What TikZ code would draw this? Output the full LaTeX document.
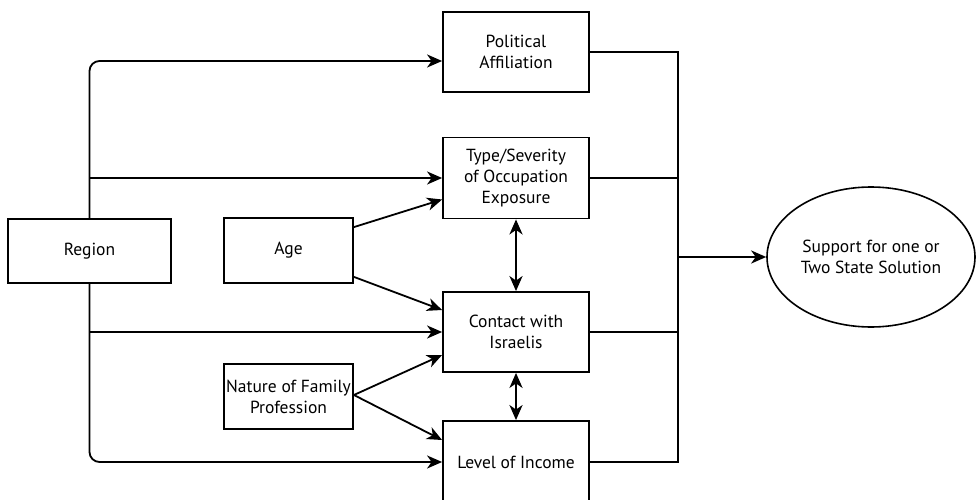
\documentclass[tikz,border=0pt]{standalone}
\usepackage{fontspec}
\setmainfont{PT Sans}
\usetikzlibrary{arrows.meta,shapes.geometric,calc}
\begin{document}
\begin{tikzpicture}[x=1pt,y=-1pt,
  font=\fontsize{17.5}{21}\selectfont,
  box/.style={draw,line width=1.8pt,align=center,inner sep=2pt},
  conn/.style={line width=1.8pt},
  tip/.style={Stealth[length=15pt,width=13pt,inset=4.5pt]},
  arr/.style={line width=1.8pt,-{Stealth[length=15pt,width=13pt,inset=4.5pt]}},
  darr/.style={line width=2.4pt,{Stealth[length=15pt,width=13pt,inset=4.5pt]}-{Stealth[length=15pt,width=13pt,inset=4.5pt]}}]
\useasboundingbox (0,0) rectangle (977,500);
\node[box,minimum width=163pt,minimum height=64pt] (region) at (89.5,251) {Region};
\node[box,minimum width=129pt,minimum height=65pt] (age) at (288.5,250.5) {Age};
\node[box,minimum width=129pt,minimum height=65pt] (nature) at (288.5,396.5) {Nature of Family\\Profession};
\node[box,minimum width=146pt,minimum height=80pt] (pol) at (516,52) {Political\\Affiliation};
\node[box,minimum width=146pt,minimum height=81pt] (type) at (516,178) {Type/Severity\\of Occupation\\Exposure};
\node[box,minimum width=146pt,minimum height=80pt] (contact) at (516,332) {Contact with\\Israelis};
\node[box,minimum width=146pt,minimum height=82pt] (level) at (516,462) {Level of Income};
\node[draw,ellipse,line width=1.6pt,minimum width=208pt,minimum height=140pt,align=center] (support) at (871,257) {Support for one or\\Two State Solution};
\coordinate (jt) at (678,52);
% region connectors
\draw[arr,rounded corners=10pt] (region.north) |- ([yshift=-9pt]pol.west);
\draw[arr] (region.north |- type.west) -- (type.west);
\draw[arr] (region.south |- contact.west) -- (contact.west);
\draw[arr,rounded corners=10pt] (region.south) |- (level.west);
% age
\draw[arr] ([yshift=-10pt]age.north east) -- ([yshift=-21.5pt]type.west);
\draw[arr] ([yshift=7pt]age.south east) -- ([yshift=22pt]contact.west);
% nature
\draw[arr] ([yshift=1.5pt]nature.east) -- ([yshift=-23pt]contact.west);
\draw[arr] ([yshift=1.5pt]nature.east) -- ([yshift=22pt]level.west);
% double arrows
\draw[darr] (type.south) -- (contact.north);
\draw[darr] (contact.south) -- (level.north);
% collector
\draw[conn] (pol.east) -- (jt) -- (jt |- level.east) -- (level.east);
\draw[conn] (type.east) -- (type.east -| jt);
\draw[conn] (contact.east) -- (contact.east -| jt);
\draw[line width=2.4pt,-{Stealth[length=15pt,width=13pt,inset=4.5pt]}] (jt |- support.west) -- (support.west);
\end{tikzpicture}
\end{document}
